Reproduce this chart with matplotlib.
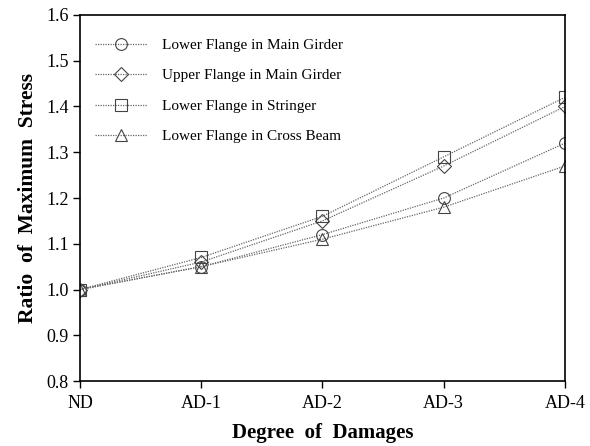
import matplotlib
matplotlib.use("Agg")
import matplotlib.pyplot as plt

plt.rcParams['font.family'] = ['Liberation Serif', 'DejaVu Serif']

categories = ["ND", "AD-1", "AD-2", "AD-3", "AD-4"]
lower_main = [1.00, 1.05, 1.12, 1.20, 1.32]
upper_main = [1.00, 1.06, 1.15, 1.27, 1.40]
lower_stringer = [1.00, 1.07, 1.16, 1.29, 1.42]
lower_cross = [1.00, 1.05, 1.11, 1.18, 1.27]

series = [
    ("Lower Flange in Main Girder", lower_main, "o", 8.5),
    ("Upper Flange in Main Girder", upper_main, "D", 7),
    ("Lower Flange in Stringer", lower_stringer, "s", 8.5),
    ("Lower Flange in Cross Beam", lower_cross, "^", 8.5),
]

fig = plt.figure(figsize=(5.9, 4.46), dpi=100)
ax = fig.add_axes([0.1356, 0.1457, 0.822, 0.8207])

x = list(range(len(categories)))
for label, vals, m, ms in series:
    ax.plot(x, vals, linestyle=(0, (1, 1)), color="#666666", linewidth=0.9,
            marker=m, markersize=ms, markerfacecolor="none",
            markeredgecolor="#444444", markeredgewidth=0.8, label=label)

ax.set_xlim(0, 4)
ax.set_ylim(0.8, 1.6)
ax.set_xticks(x)
ax.set_xticklabels(categories)
ax.set_yticks([0.8, 0.9, 1.0, 1.1, 1.2, 1.3, 1.4, 1.5, 1.6])
ax.set_yticklabels(["0.8", "0.9", "1.0", "1.1", "1.2", "1.3", "1.4", "1.5", "1.6"])
ax.tick_params(axis="both", direction="out", length=5, width=1, labelsize=13)
ax.tick_params(axis="x", top=False, pad=5)
ax.tick_params(axis="y", right=False, pad=3)
for s in ax.spines.values():
    s.set_linewidth(1.2)

ax.set_xlabel("Degree  of  Damages", fontsize=15, fontweight="bold", labelpad=8)
ax.set_ylabel("Ratio  of  Maximum  Stress", fontsize=15.5, fontweight="bold", labelpad=6)

leg = ax.legend(loc="upper left", frameon=False, fontsize=11, handlelength=3.4,
                handletextpad=1.0, labelspacing=1.1, borderaxespad=0.4,
                bbox_to_anchor=(0.005, 0.97))

fig.savefig("out.png", dpi=100)
